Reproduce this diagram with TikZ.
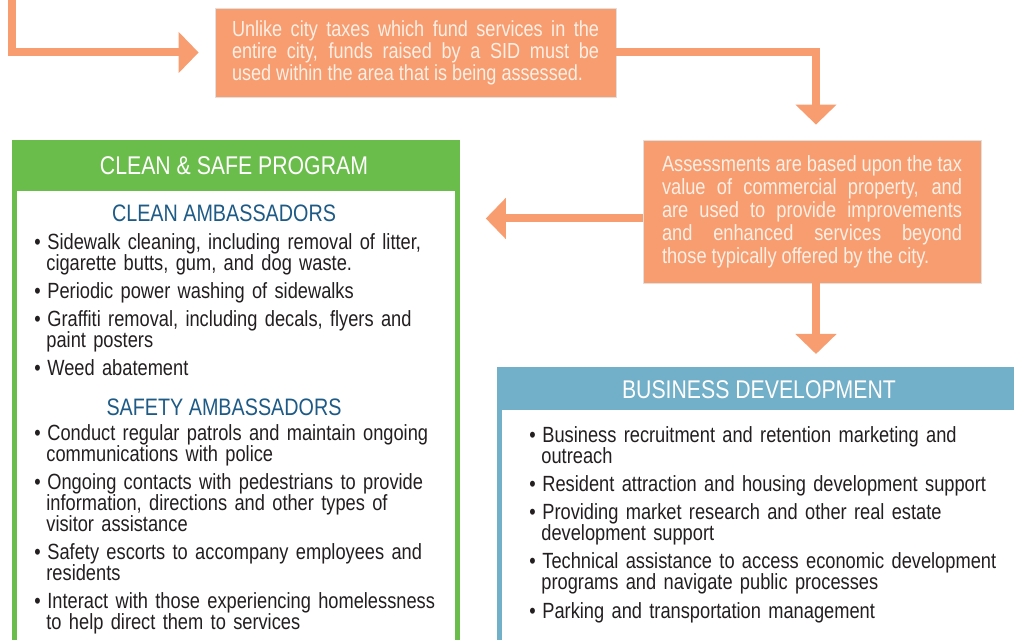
\documentclass[tikz,border=0pt]{standalone}
\usepackage{fontspec}
\setmainfont{Liberation Sans}[FakeStretch=0.83]
\usetikzlibrary{arrows.meta,positioning}

\definecolor{sidorange}{HTML}{F79D6F}
\definecolor{sidgreen}{HTML}{6ABD4B}
\definecolor{sidblue}{HTML}{72AFC8}
\definecolor{subblue}{HTML}{1D5A86}
\definecolor{bodytext}{HTML}{231F20}
\definecolor{notetext}{HTML}{FCEFE6}

\newcommand{\bitem}[1]{\par\hangindent=6pt\hangafter=1\noindent\makebox[6.5pt][l]{\textbullet}#1\par\vspace{3.6pt}}

\begin{document}
\begin{tikzpicture}[x=0.5pt, y=-0.5pt]
    % Styles
    \tikzstyle{note} = [rectangle, fill=sidorange, draw=black!12, line width=0.4pt, inner sep=0pt, text=notetext, align=justify]
    \tikzstyle{panel} = [rectangle, anchor=north west, inner sep=0pt, minimum height=300pt]
    \tikzstyle{title} = [text=white, font=\fontsize{12.8}{14}\selectfont]
    \tikzstyle{subtitle} = [text=subblue, font=\fontsize{11.9}{12}\selectfont]
    \tikzstyle{list} = [anchor=north west, inner sep=0pt, text=bodytext, align=left, font=\fontsize{11}{10.5}\selectfont]
    \tikzstyle{flow} = [draw=sidorange, line width=4pt, -{Triangle[width=20pt, length=10pt]}]

    \useasboundingbox (0,0) rectangle (1014,640);
    \clip (0,0) rectangle (1014,640);

    % Orange notes
    \node[note, minimum width=200.5pt, minimum height=44.5pt, text width=183.5pt, font=\fontsize{10.9}{11}\selectfont] (tax) at (415.5,52.5)
        {Unlike city taxes which fund services in the\linebreak entire city, funds raised by a SID must be\linebreak used within the area that is being assessed.};
    \node[note, minimum width=169pt, minimum height=71.5pt, text width=150pt, font=\fontsize{11}{11.5}\selectfont] (assess) at (812,211.5)
        {Assessments are based upon the tax\linebreak value of commercial property, and\linebreak are used to provide improvements\linebreak and enhanced services beyond\linebreak those typically offered by the city.};

    % Clean & safe panel
    \node[panel, fill=sidgreen, minimum width=224pt] (clean) at (12,140) {};
    \node[panel, fill=white, minimum width=219pt] (cleanbody) at (17,191) {};
    \node[title] (cleantitle) at (234,166) {CLEAN \& SAFE PROGRAM};
    \node[subtitle] (cleanhead) at (224,213) {CLEAN AMBASSADORS};
    \node[list, text width=205pt] (cleanlist) at (34,228) {%
        \bitem{Sidewalk cleaning, including removal of litter,\newline cigarette butts, gum, and dog waste.}
        \bitem{Periodic power washing of sidewalks}
        \bitem{Graffiti removal, including decals, flyers and\newline paint posters}
        \bitem{Weed abatement}};
    \node[subtitle] (safehead) at (224,407) {SAFETY AMBASSADORS};
    \node[list, text width=205pt] (safelist) at (34,419) {%
        \bitem{Conduct regular patrols and maintain ongoing\newline communications with police}
        \bitem{Ongoing contacts with pedestrians to provide\newline information, directions and other types of\newline visitor assistance}
        \bitem{Safety escorts to accompany employees and\newline residents}
        \bitem{Interact with those experiencing homelessness\newline to help direct them to services}};

    % Business development panel
    \node[panel, fill=sidblue, minimum width=270pt] (biz) at (497,367) {};
    \node[panel, fill=white, minimum width=270pt] (bizbody) at (502,410) {};
    \node[title] (biztitle) at (759,390) {BUSINESS DEVELOPMENT};
    \node[list, text width=240pt] (bizlist) at (529,421) {%
        \bitem{Business recruitment and retention marketing and\newline outreach}
        \bitem{Resident attraction and housing development support}
        \bitem{Providing market research and other real estate\newline development support}
        \bitem{Technical assistance to access economic development\newline programs and navigate public processes}
        \bitem{Parking and transportation management}};

    % Arrows
    \coordinate (entry) at (12,-6);
    \draw[flow, shorten >=8pt] (entry) |- (tax.west);
    \draw[flow, shorten >=7.5pt] (tax.east) -| ([xshift=2pt]assess.north);
    \draw[flow, shorten >=12.5pt] ([yshift=-3.5pt]assess.west) -- ([yshift=-3.5pt]assess.west -| clean.east);
    \draw[flow, shorten >=6.5pt] ([xshift=2pt]assess.south) -- ([xshift=2pt]assess.south |- biz.north);
\end{tikzpicture}
\end{document}
